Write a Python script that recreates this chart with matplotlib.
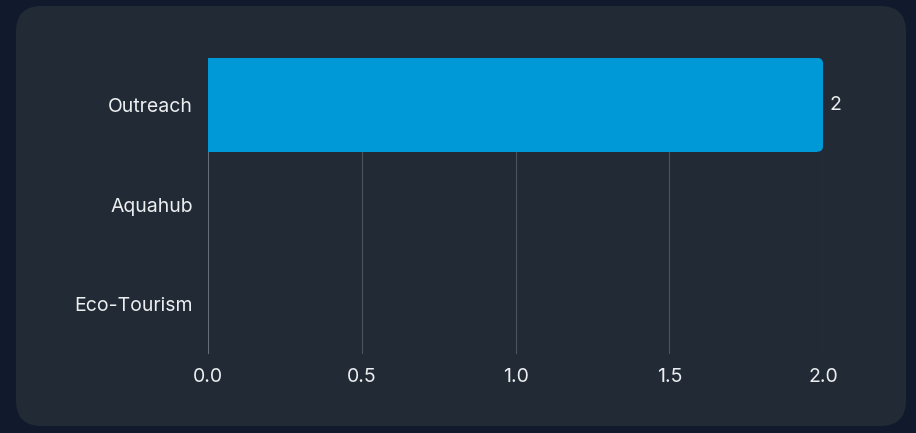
import matplotlib.pyplot as plt
from matplotlib.patches import FancyBboxPatch

categories = ['Outreach', 'Aquahub', 'Eco-Tourism']
values = [2, 0, 0]
xticks = [0.0, 0.5, 1.0, 1.5, 2.0]

plt.rcParams['font.family'] = ['Inter', 'DejaVu Sans']

bg = '#111a2c'
panel = '#212a35'
bar_color = '#0099d8'
text_color = '#eceef0'
grid_color = '#4a525c'

fig = plt.figure(figsize=(9.16, 4.33), dpi=100, facecolor=bg)

# rounded panel behind the chart
card = FancyBboxPatch((16 / 916, 1 - 426 / 433), 890 / 916, 420 / 433,
                      boxstyle='round,pad=0,rounding_size=0.028',
                      transform=fig.transFigure, facecolor=panel,
                      edgecolor='none', mutation_aspect=916 / 433, zorder=-5)
fig.patches.append(card)

ax = fig.add_axes([208 / 916, 1 - 354 / 433, 615 / 916, 296 / 433])
ax.set_facecolor('none')

ypos = list(range(len(categories)))
bar_h = 0.94
r = 0.018  # corner radius in x units
for y, v in zip(ypos, values):
    if v <= 0:
        continue
    ax.barh(y, v - r, height=bar_h, color=bar_color, zorder=3)
    ax.add_patch(FancyBboxPatch((0, y - bar_h / 2), v, bar_h,
                                boxstyle='round,pad=0,rounding_size=%f' % r,
                                mutation_aspect=307.5 / 98.7,
                                facecolor=bar_color, edgecolor='none', zorder=3))
    ax.text(v + 0.02, y, str(v), color=text_color, fontsize=14,
            va='center', ha='left', zorder=4)

ax.set_xlim(0, 2)
ax.set_ylim(len(categories) - 0.5, -0.5 + 0.03)
ax.set_yticks(ypos)
ax.set_yticklabels(categories)
ax.set_xticks(xticks)
ax.set_xticklabels(['%.1f' % t for t in xticks])

ax.tick_params(axis='y', length=0, pad=11, colors=text_color, labelsize=14)
ax.tick_params(axis='x', length=0, pad=10, colors=text_color, labelsize=14)

for s in ax.spines.values():
    s.set_visible(False)

ax.grid(axis='x', color=grid_color, linewidth=0.8, zorder=1)
ax.axvline(0, color='#6b737c', linewidth=1.2, zorder=2)

fig.savefig('out.png', dpi=100, facecolor=bg)
